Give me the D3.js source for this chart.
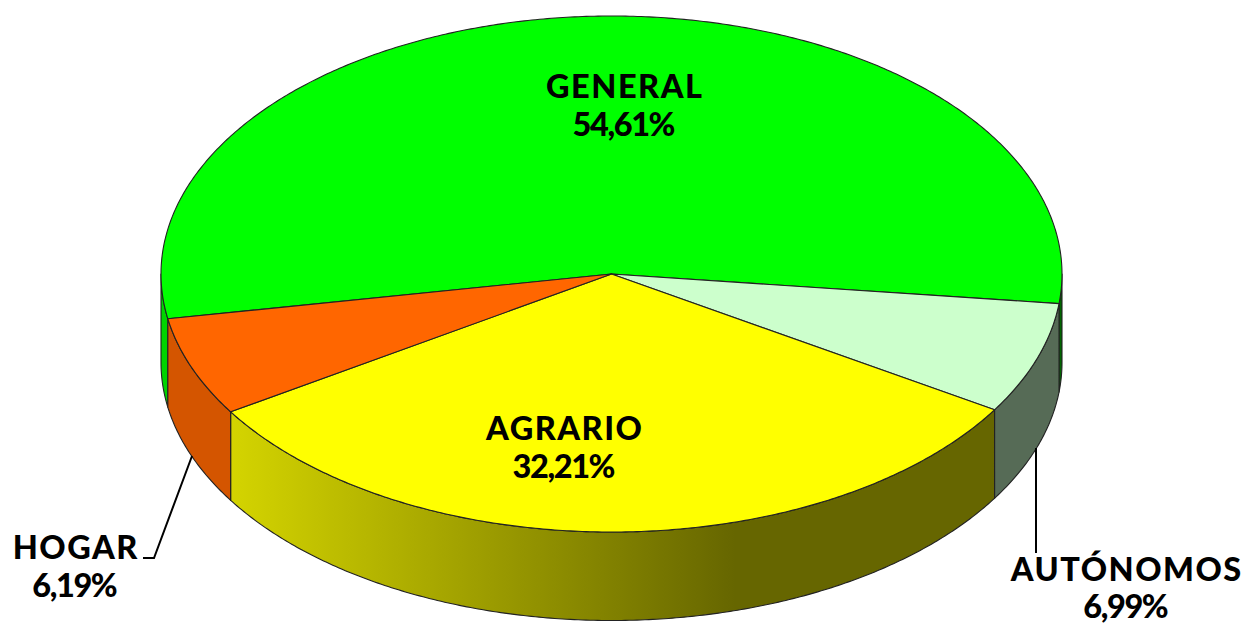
<!DOCTYPE html>
<html><head><meta charset="utf-8">
<script src="https://cdn.jsdelivr.net/npm/d3@7"></script>
<style>html,body{margin:0;padding:0;background:#fff}svg{display:block}
text{font-family:Lato,sans-serif;font-weight:900;fill:#000;text-anchor:middle}</style>
</head><body><script>
const categories = ["GENERAL","AUTÓNOMOS","AGRARIO","HOGAR"];
const shares = [54.61,6.99,32.21,6.19];
const shareLabels = ["54,61%","6,99%","32,21%","6,19%"];
const topColors = ["#00ff00","#ccffcc","#ffff00","#ff6600"];
const wallColors = ["url(#wallGreen)","#566b56","url(#wallYellow)","#d45500"];
const labelX = [624,1126,564,75];
const labelY = [98,581,440,559];
const fontSize = 32.5, lineGap = 37.5, nameTrack = 1.5, pctTrack = -1.4;
const lastPctY = 618;

const W=1245,H=623,cx=611.5,cy=274,rx=450.5,ry=258,depth=88.5;
const rad=d=>d*Math.PI/180;
const svg=d3.select("body").append("svg").attr("width",W).attr("height",H);
const defs=svg.append("defs");
function grad(id,x1,x2,stops){
  const g=defs.append("linearGradient").attr("id",id).attr("gradientUnits","userSpaceOnUse")
    .attr("x1",x1).attr("x2",x2).attr("y1",0).attr("y2",0);
  stops.forEach(s=>g.append("stop").attr("offset",s[0]).attr("stop-color",s[1]));
}
grad("wallYellow",231,735,[[0,"#d4d400"],[1,"#666600"]]);
grad("wallGreen",161,1062,[[0,"#00d400"],[0.02,"#00d400"],[1,"#006600"]]);

const pie=d3.pie().sort(null).value(d=>d).startAngle(rad(260)).endAngle(rad(620));
const arcs=pie(shares);
const px=t=>cx+rx*Math.sin(t), py=t=>cy-ry*Math.cos(t);
const line=d3.line();
const sample=(a,b)=>{const n=Math.max(2,Math.ceil(Math.abs(b-a)/rad(0.5)));
  return d3.range(n+1).map(i=>a+(b-a)*i/n);};

// side walls: only rim spans facing the viewer (90..270 degrees, modulo full turns)
const walls=svg.append("g");
arcs.forEach((a,i)=>{
  [0,2*Math.PI].forEach(off=>{
    const s=Math.max(a.startAngle,rad(90)+off), e=Math.min(a.endAngle,rad(270)+off);
    if(e<=s) return;
    const ts=sample(s,e);
    const pts=[...ts.map(t=>[px(t),py(t)]),...ts.slice().reverse().map(t=>[px(t),py(t)+depth])];
    walls.append("path").attr("d",line(pts)+"Z").attr("fill",wallColors[i])
      .attr("stroke","#222").attr("stroke-width",1.1).attr("stroke-linejoin","round");
  });
});
// top faces
const tops=svg.append("g");
arcs.forEach((a,i)=>{
  const pts=[[cx,cy],...sample(a.startAngle,a.endAngle).map(t=>[px(t),py(t)])];
  tops.append("path").attr("d",line(pts)+"Z").attr("fill",topColors[i])
    .attr("stroke","#222").attr("stroke-width",1.1).attr("stroke-linejoin","round");
});
// leader lines anchored on the labels
const leaders=[[[labelX[3]+68,labelY[3]-1],[labelX[3]+79,labelY[3]-1],[192,456]],
               [[1036,448],[1036,labelY[1]-28]]];
svg.append("g").selectAll("path").data(leaders).join("path")
  .attr("d",d=>line(d)).attr("fill","none").attr("stroke","#000").attr("stroke-width",2);
// labels
const lab=svg.append("g");
categories.forEach((c,i)=>{
  lab.append("text").attr("x",labelX[i]+nameTrack/2).attr("y",labelY[i]).attr("font-size",fontSize)
    .attr("letter-spacing",nameTrack).text(c);
  lab.append("text").attr("x",labelX[i]+pctTrack/2).attr("y",Math.min(labelY[i]+lineGap,lastPctY)).attr("font-size",fontSize)
    .attr("letter-spacing",pctTrack).text(shareLabels[i]);
});
</script></body></html>
